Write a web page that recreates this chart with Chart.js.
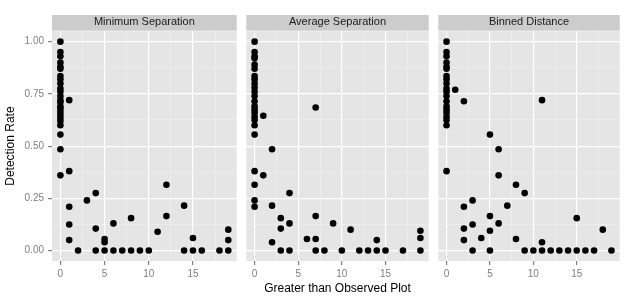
<!DOCTYPE html>
<html>
<head>
<meta charset="utf-8">
<script src="https://cdn.jsdelivr.net/npm/chart.js@4.4.0/dist/chart.umd.min.js"></script>
<style>
  body { margin: 0; background: #fff; }
  #wrap { position: relative; width: 638px; height: 300px; }
  canvas { position: absolute; top: 0; }
</style>
</head>
<body>
<div id="wrap">
  <canvas id="c1" width="240" height="300" style="left:0px"></canvas>
  <canvas id="c2" width="189" height="300" style="left:243px"></canvas>
  <canvas id="c3" width="188" height="300" style="left:435px"></canvas>
</div>
<script>
// facet titles
var panelNames = ['Minimum Separation', 'Average Separation', 'Binned Distance'];

// axis ticks
var xTickValues = [0, 5, 10, 15];
var xTickLabels = ['0', '5', '10', '15'];
var yTickValues = [0, 0.25, 0.5, 0.75, 1];
var yTickLabels = ['0.00', '0.25', '0.50', '0.75', '1.00'];

// Minimum Separation
var minSepX = [0,0,0,0,0,0,0,0,0,0,0,0,0,0,0,0,0,0,0,0,0,0,0,0,
  1,1,1,1,1, 2, 3, 4,4,4, 5,5,5, 6,6, 7, 8,8, 9, 10, 11, 12,12, 14,14, 15,15, 16, 18, 19,19,19];
var minSepY = [1.00,0.95,0.93,0.90,0.88,0.87,0.835,0.82,0.80,0.775,0.76,0.74,0.72,0.71,0.69,0.68,0.665,0.65,0.635,0.62,0.60,0.555,0.485,0.36,
  0.72,0.38,0.21,0.125,0.05, 0, 0.24, 0.275,0.105,0, 0.055,0.04,0, 0.13,0, 0, 0.155,0, 0, 0, 0.09, 0.315,0.165, 0.215,0, 0.06,0, 0, 0, 0.10,0.05,0];

// Average Separation
var avgSepX = [0,0,0,0,0,0,0,0,0,0,0,0,0,0,0,0,0,0,0,0,0,0,0,0,
  1,1, 2,2,2, 3,3,3, 4,4,4, 6, 7,7,7,7, 8, 9, 10, 11, 12, 13, 14,14, 15, 17, 19,19,19];
var avgSepY = [1.00,0.95,0.93,0.92,0.89,0.87,0.835,0.82,0.80,0.78,0.76,0.74,0.715,0.69,0.675,0.66,0.64,0.625,0.60,0.555,0.38,0.315,0.24,0.21,
  0.645,0.36, 0.485,0.215,0.04, 0.155,0.105,0, 0.275,0.13,0, 0.055, 0.685,0.165,0.055,0, 0, 0.13, 0, 0.10, 0, 0, 0.05,0, 0, 0, 0.095,0.06,0];

// Binned Distance
var binDistX = [0,0,0,0,0,0,0,0,0,0,0,0,0,0,0,0,0,0,0,0,
  1, 2,2,2,2, 3,3,3, 4, 5,5,5,5, 6,6,6, 7, 8,8, 9,9, 10, 11,11,11, 12, 13, 14, 15,15, 16, 17, 18, 19];
var binDistY = [1.00,0.95,0.93,0.90,0.88,0.87,0.835,0.82,0.80,0.775,0.76,0.74,0.715,0.69,0.675,0.66,0.64,0.625,0.60,0.38,
  0.77, 0.715,0.21,0.105,0.05, 0.24,0.125,0, 0.06, 0.555,0.165,0.095,0, 0.485,0.36,0.13, 0.215, 0.315,0.055, 0.275,0, 0, 0.72,0.04,0, 0, 0, 0, 0.155,0, 0, 0, 0.10, 0];

var fontFam = '"Liberation Sans", Arial, Helvetica, sans-serif';

// panel background and strip
var panelBg = {
  id: 'panelBg',
  beforeDraw: function(chart) {
    var a = chart.chartArea, ctx = chart.ctx;
    ctx.save();
    ctx.fillStyle = '#CCCCCC';
    ctx.fillRect(a.left, 15, a.right - a.left, a.top - 15.5);
    ctx.fillStyle = '#E5E5E5';
    ctx.fillRect(a.left, a.top, a.right - a.left, a.bottom - a.top);
    ctx.restore();
  }
};

function isMajor(v, list) {
  return list.some(function(m) { return Math.abs(m - v) < 1e-6; });
}

function makePanel(id, name, xs, ys, first, showXTitle) {
  var pts = xs.map(function(x, i) { return { x: x, y: ys[i] }; });
  new Chart(document.getElementById(id), {
    type: 'scatter',
    data: {
      datasets: [{
        data: pts,
        backgroundColor: '#000',
        borderWidth: 0,
        pointRadius: 3.3,
        pointHoverRadius: 3.3
      }]
    },
    plugins: [panelBg],
    options: {
      responsive: false,
      animation: false,
      layout: { padding: 0 },
      plugins: {
        legend: { display: false },
        tooltip: { enabled: false },
        title: {
          display: true,
          text: name,
          fullSize: false,
          color: '#1A1A1A',
          font: { size: 11, weight: 'normal', family: fontFam },
          padding: { top: 15, bottom: 3 }
        }
      },
      scales: {
        x: {
          type: 'linear',
          min: -0.95,
          max: 19.95,
          afterBuildTicks: function(s) {
            s.ticks = [0, 2.5, 5, 7.5, 10, 12.5, 15, 17.5].map(function(v) { return { value: v }; });
          },
          afterFit: function(s) { s.height = 39; },
          border: { display: false },
          grid: {
            color: function(c) { return isMajor(c.tick.value, xTickValues) ? '#FFFFFF' : '#F2F2F2'; },
            lineWidth: function(c) { return isMajor(c.tick.value, xTickValues) ? 1.2 : 0.6; },
            tickColor: function(c) { return isMajor(c.tick.value, xTickValues) ? '#7F7F7F' : 'rgba(0,0,0,0)'; },
            tickLength: 4
          },
          ticks: {
            autoSkip: false,
            maxRotation: 0,
            padding: 3,
            color: '#7F7F7F',
            font: { size: 10, family: fontFam },
            callback: function(v) {
              var i = xTickValues.indexOf(v);
              return i >= 0 ? xTickLabels[i] : '';
            }
          },
          title: {
            display: showXTitle,
            text: 'Greater than Observed Plot',
            color: '#000',
            font: { size: 12, family: fontFam },
            padding: { top: 0, bottom: 4 }
          }
        },
        y: {
          min: -0.05,
          max: 1.05,
          afterBuildTicks: function(s) {
            var t = [];
            for (var k = 0; k <= 8; k++) t.push({ value: k * 0.125 });
            s.ticks = t;
          },
          afterFit: function(s) { s.width = first ? 52 : 0; },
          border: { display: false },
          grid: {
            color: function(c) { return isMajor(c.tick.value, yTickValues) ? '#FFFFFF' : '#F2F2F2'; },
            lineWidth: function(c) { return isMajor(c.tick.value, yTickValues) ? 1.2 : 0.6; },
            tickColor: function(c) { return isMajor(c.tick.value, yTickValues) ? '#7F7F7F' : 'rgba(0,0,0,0)'; },
            tickLength: 4,
            drawTicks: first
          },
          ticks: {
            display: first,
            autoSkip: false,
            padding: 4,
            color: '#7F7F7F',
            font: { size: 10, family: fontFam },
            callback: function(v) {
              for (var i = 0; i < yTickValues.length; i++) {
                if (Math.abs(yTickValues[i] - v) < 1e-6) return yTickLabels[i];
              }
              return '';
            }
          },
          title: {
            display: first,
            text: 'Detection Rate',
            color: '#000',
            font: { size: 12, family: fontFam },
            padding: { top: 3, bottom: 0 }
          }
        }
      }
    }
  });
}

makePanel('c1', panelNames[0], minSepX, minSepY, true, false);
makePanel('c2', panelNames[1], avgSepX, avgSepY, false, true);
makePanel('c3', panelNames[2], binDistX, binDistY, false, false);
</script>
</body>
</html>
